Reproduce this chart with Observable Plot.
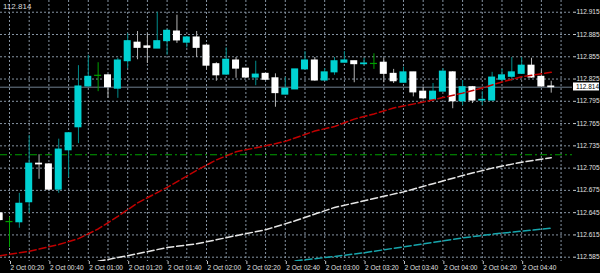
<!DOCTYPE html>
<html><head><meta charset="utf-8">
<script src="https://cdn.jsdelivr.net/npm/d3@7"></script>
<script src="https://cdn.jsdelivr.net/npm/@observablehq/plot@0.6"></script>
<style>
html,body{margin:0;padding:0;background:#000;}
#chart{width:600px;height:273px;overflow:hidden;}
</style></head><body><div id="chart"></div>
<script>
const day = "2019-10-02";
const times = ["00:15","00:20","00:25","00:30","00:35","00:40","00:45","00:50","00:55",
"01:00","01:05","01:10","01:15","01:20","01:25","01:30","01:35","01:40","01:45","01:50","01:55",
"02:00","02:05","02:10","02:15","02:20","02:25","02:30","02:35","02:40","02:45","02:50","02:55",
"03:00","03:05","03:10","03:15","03:20","03:25","03:30","03:35","03:40","03:45","03:50","03:55",
"04:00","04:05","04:10","04:15","04:20","04:25","04:30","04:35","04:40","04:45","04:50","04:55"];
const open = [112.644,112.633,112.632,112.659,112.711,112.710,112.676,112.729,112.760,
112.815,112.830,112.830,112.812,112.849,112.874,112.869,112.866,112.876,112.889,112.874,112.881,
112.870,112.845,112.831,112.850,112.839,112.827,112.832,112.826,112.804,112.811,112.838,112.850,
112.823,112.834,112.847,112.849,112.845,112.846,112.847,112.832,112.820,112.834,112.808,112.797,
112.808,112.834,112.795,112.814,112.796,112.796,112.824,112.828,112.832,112.843,112.828,112.815];
const high = [112.645,112.639,112.671,112.749,112.723,112.711,112.744,112.753,112.843,
112.857,112.847,112.831,112.853,112.886,112.889,112.886,112.915,112.892,112.911,112.882,112.889,
112.872,112.847,112.867,112.854,112.839,112.849,112.832,112.832,112.827,112.838,112.862,112.854,
112.839,112.854,112.862,112.849,112.853,112.859,112.853,112.838,112.841,112.834,112.814,112.819,
112.839,112.835,112.823,112.815,112.808,112.834,112.838,112.854,112.854,112.853,112.837,112.822];
const low = [112.633,112.598,112.624,112.644,112.690,112.675,112.671,112.692,112.738,
112.814,112.808,112.799,112.799,112.839,112.851,112.846,112.866,112.857,112.873,112.867,112.854,
112.837,112.822,112.830,112.826,112.826,112.816,112.823,112.787,112.804,112.811,112.838,112.822,
112.823,112.830,112.847,112.820,112.843,112.838,112.820,112.819,112.820,112.801,112.797,112.796,
112.808,112.785,112.789,112.792,112.789,112.796,112.820,112.822,112.832,112.826,112.814,112.806];
const close = [112.635,112.633,112.657,112.711,112.710,112.676,112.730,112.752,112.815,
112.828,112.830,112.814,112.850,112.876,112.867,112.867,112.876,112.890,112.877,112.881,112.867,
112.843,112.830,112.851,112.839,112.827,112.831,112.824,112.806,112.812,112.838,112.850,112.823,
112.834,112.849,112.850,112.845,112.846,112.846,112.832,112.822,112.834,112.807,112.799,112.808,
112.835,112.795,112.814,112.796,112.797,112.827,112.830,112.834,112.843,112.827,112.815,112.814];

const maRedTimes = ["00:15","00:30","00:45","00:55","01:05","01:15","01:25","01:40","01:55","02:05","02:15","02:30","02:40","02:55","03:05","03:15","03:25","03:35","03:50","04:00","04:10","04:20","04:30","04:40","04:55"];
const maRedValues = [112.587,112.593,112.602,112.610,112.623,112.640,112.658,112.679,112.702,112.716,112.727,112.735,112.741,112.755,112.761,112.771,112.778,112.786,112.794,112.800,112.806,112.813,112.821,112.828,112.834];
const maWhiteTimes = ["01:00","01:20","01:40","01:55","02:15","02:30","02:45","03:05","03:20","03:40","03:55","04:10","04:25","04:40","04:55"];
const maWhiteValues = [112.577,112.587,112.598,112.603,112.614,112.622,112.634,112.652,112.661,112.673,112.684,112.695,112.705,112.713,112.719];
const maCyanTimes = ["02:45","03:05","03:20","03:35","03:55","04:10","04:25","04:40","04:55"];
const maCyanValues = [112.580,112.586,112.591,112.597,112.605,112.611,112.616,112.620,112.624];

const greenLevel = 112.723;
const lastPrice = 112.814;
const yTicks = [112.585,112.615,112.645,112.675,112.705,112.735,112.765,112.795,112.825,112.855,112.885,112.915];
const xTicks = ["00:20","00:40","01:00","01:20","01:40","02:00","02:20","02:40","03:00","03:20","03:40","04:00","04:20","04:40"];

const parse = t => new Date(`${day}T${t}:00Z`);
const candles = times.map((t,k)=>({t:parse(t), o:open[k], h:high[k], l:low[k], c:close[k]}));
const bulls = candles.filter(d=>d.c>d.o);
const bears = candles.filter(d=>d.c<d.o);
const dojis = candles.filter(d=>d.c===d.o);
const toLine = (ts,vs)=>ts.map((t,k)=>({t:parse(t), v:vs[k]}));
const half = 1.78*60*1000;
const bx1 = d=>new Date(+d.t-half), bx2 = d=>new Date(+d.t+half);

const xDomain = [new Date(+parse("00:15")+0.43*60000), new Date(+parse("05:05")+0.8*60000)];
const gridTimes = d3.utcMinute.every(10).range(parse("00:20"), parse("05:05"));
const fmt = d3.utcFormat("%-d %b %H:%M");

const cyan="#00d2d2", teal="#008c8c", white="#ffffff", gray="#b4b4b4", green="#00a000";
const font = "'Liberation Sans', Arial, sans-serif";

const chart = Plot.plot({
  width:600, height:273,
  marginLeft:0, marginRight:28, marginTop:0, marginBottom:12,
  style:{background:"#000", color:"#d0d0d0", fontFamily:font, fontSize:"6.5px"},
  x:{type:"utc", domain:xDomain, label:null},
  y:{domain:[112.5792,112.9308], label:null},
  marks:[
    Plot.ruleY(yTicks, {stroke:"#8694a3", strokeDasharray:"2,2", strokeWidth:1}),
    Plot.ruleX(gridTimes, {stroke:"#8694a3", strokeDasharray:"2,2", strokeWidth:1}),
    Plot.ruleY([lastPrice], {stroke:"#6e7e8e"}),
    Plot.ruleY([greenLevel], {stroke:green, strokeDasharray:"7,3,2,3", strokeWidth:1.2}),
    Plot.ruleX(bulls, {x:"t", y1:"l", y2:"h", stroke:teal}),
    Plot.ruleX(bears, {x:"t", y1:"l", y2:"h", stroke:gray}),
    Plot.ruleX(dojis, {x:"t", y1:"l", y2:"h", stroke:green}),
    Plot.rect(bulls, {x1:bx1, x2:bx2, y1:"o", y2:"c", fill:cyan, insetTop:-0.5, insetBottom:-0.5}),
    Plot.rect(bears, {x1:bx1, x2:bx2, y1:"o", y2:"c", fill:white, insetTop:-0.5, insetBottom:-0.5}),
    Plot.ruleY(dojis, {x1:bx1, x2:bx2, y:"c", stroke:green, strokeWidth:1.2}),
    Plot.line(toLine(maWhiteTimes,maWhiteValues), {x:"t", y:"v", stroke:"#e6e6e6", strokeDasharray:"7,3", clip:true}),
    Plot.line(toLine(maCyanTimes,maCyanValues), {x:"t", y:"v", stroke:"#17a6ad", strokeDasharray:"7,3", clip:true}),
    Plot.line(toLine(maRedTimes,maRedValues), {x:"t", y:"v", stroke:"#c00000", strokeDasharray:"7,3", clip:true}),
    Plot.axisY(yTicks, {anchor:"right", label:null, tickSize:3, tickPadding:1, tickFormat:d=>d.toFixed(3), stroke:"#c8c8c8", line:true, fill:"#e0e0e0"}),
    Plot.axisX(xTicks.map(parse), {anchor:"bottom", label:null, tickSize:3, tickPadding:1, tickFormat:fmt, textAnchor:"start", dx:1, stroke:"#c8c8c8", line:true, fill:"#e0e0e0"})
  ]
});
document.getElementById("chart").appendChild(chart);

// current price tag on the right axis and the price readout at top-left
const NS = "http://www.w3.org/2000/svg";
const yS = chart.scale("y");
const py = yS.apply(lastPrice);
const xRight = 600 - 28;
const tag = document.createElementNS(NS, "text");
tag.setAttribute("x", xRight + 4);
tag.setAttribute("y", py);
tag.setAttribute("dy", "0.35em");
tag.setAttribute("text-anchor", "start");
tag.setAttribute("fill", "#000");
tag.setAttribute("font-family", font);
tag.setAttribute("font-size", "6.5px");
tag.textContent = lastPrice.toFixed(3);
chart.appendChild(tag);
const bb = tag.getBBox();
const box = document.createElementNS(NS, "rect");
box.setAttribute("x", xRight + 1);
box.setAttribute("y", bb.y - 0.5);
box.setAttribute("width", 600 - xRight - 2);
box.setAttribute("height", bb.height + 1);
box.setAttribute("fill", "#fff");
chart.insertBefore(box, tag);

const topText = document.createElementNS(NS, "text");
topText.setAttribute("x", 3);
topText.setAttribute("y", 9);
topText.setAttribute("text-anchor", "start");
topText.setAttribute("fill", "#d8d8d8");
topText.setAttribute("font-family", font);
topText.setAttribute("font-size", "8px");
topText.textContent = lastPrice.toFixed(3);
chart.appendChild(topText);
</script></body></html>
